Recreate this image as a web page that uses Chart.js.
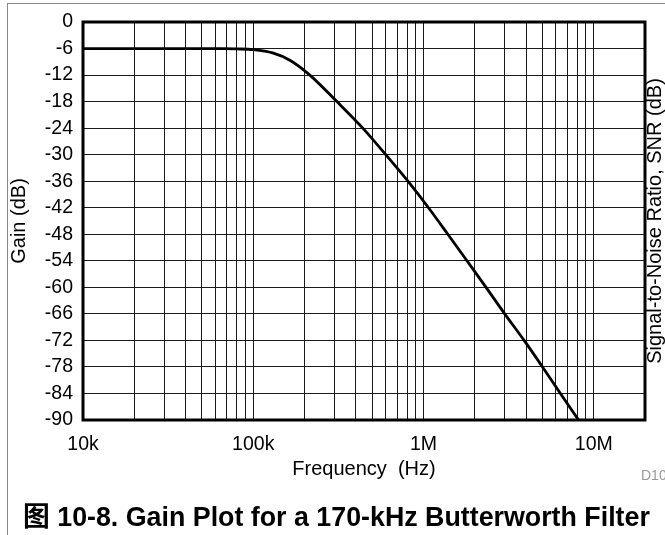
<!DOCTYPE html>
<html>
<head>
<meta charset="utf-8">
<script src="https://cdn.jsdelivr.net/npm/chart.js@4.4.1/dist/chart.umd.min.js"></script>
<style>
  html, body { margin: 0; padding: 0; background: #fff; }
  #wrap { position: relative; width: 665px; height: 535px; overflow: hidden; }
  #frame { position: absolute; left: 7px; top: 3px; width: 700px; height: 600px;
           border-top: 1px solid #8a8a8a; border-left: 1px solid #8a8a8a; }
  #gainChart { position: absolute; left: 0; top: 0; }
  #caption { position: absolute; left: 23px; top: 495px; line-height: 28px; white-space: nowrap;
             font: bold 26.8px "Liberation Sans", Arial, "Noto Sans CJK SC", sans-serif; color: #000; }
  #caption .cjk { font-family: "Noto Sans CJK SC", sans-serif; }
  #code { position: absolute; left: 641px; top: 467px; line-height: 16px; white-space: nowrap;
          font: 14px "Liberation Sans", Arial, sans-serif; color: #9a9a9a; }
</style>
</head>
<body>
<div id="wrap">
  <div id="frame"></div>
  <canvas id="gainChart" width="665" height="535"></canvas>
  <div id="code">D10</div>
  <div id="caption"><span class="cjk">图</span> 10-8. Gain Plot for a 170-kHz Butterworth Filter</div>
</div>
<script>
// Gain curve of the filter (frequency in Hz, gain in dB)
const freqs = [10000, 40000, 65000, 80000, 100000, 130000, 165000, 215000, 310000, 440000,
               600000, 810000, 1070000, 1390000, 1800000, 2330000, 3000000, 3900000,
               5000000, 6370000, 8150000];
const gains = [-6, -6, -6.02, -6.08, -6.25, -7.0, -8.7, -12, -18, -24,
               -30, -36, -42, -48, -54, -60, -66, -72,
               -78, -84, -90];

// Axis ranges and labels
const freqMin = 10000;
const freqMax = 20000000;
const labelFreqs = [10000, 100000, 1000000, 10000000];
const freqLabels = ['10k', '100k', '1M', '10M'];
const gainMin = -90;
const gainMax = 0;
const gainStep = 6;

// vertical grid at 1..9 x each decade
const gridFreqs = [];
for (let d = 10000; d < 10000000; d *= 10) {
    for (let m = 1; m <= 9; m++) gridFreqs.push(d * m);
}
gridFreqs.push(10000000);

const FONT = '"Liberation Sans", Arial, sans-serif';

// frame around the plot area and the extra axis texts
const decorations = {
    id: 'decorations',
    afterDatasetsDraw(chart) {
        const { ctx, chartArea: a } = chart;
        ctx.save();
        ctx.strokeStyle = '#000';
        ctx.lineWidth = 3;
        ctx.strokeRect(a.left, a.top, a.right - a.left, a.bottom - a.top);
        ctx.restore();
    },
    afterDraw(chart) {
        const { ctx, chartArea: a } = chart;
        const midY = (a.top + a.bottom) / 2;
        ctx.save();
        ctx.fillStyle = '#000';
        ctx.font = '20px ' + FONT;
        ctx.textAlign = 'center';
        ctx.textBaseline = 'middle';
        ctx.fillText('Frequency  (Hz)', (a.left + a.right) / 2, 469);

        ctx.save();
        ctx.translate(19, midY);
        ctx.rotate(-Math.PI / 2);
        ctx.fillText('Gain (dB)', 0, 0);
        ctx.restore();

        ctx.save();
        ctx.translate(655, midY);
        ctx.rotate(-Math.PI / 2);
        ctx.fillText('Signal-to-Noise Ratio, SNR (dB)', 0, 0);
        ctx.restore();
        ctx.restore();
    }
};

const ctx = document.getElementById('gainChart').getContext('2d');
const gainChart = new Chart(ctx, {
    type: 'line',
    data: {
        datasets: [{
            label: 'Gain',
            data: freqs.map((f, i) => ({ x: f, y: gains[i] })),
            borderColor: '#000',
            borderWidth: 2.8,
            pointRadius: 0,
            fill: false,
            cubicInterpolationMode: 'monotone'
        }]
    },
    options: {
        responsive: false,
        animation: false,
        layout: { padding: { left: 0, top: 22, right: 20, bottom: 0 } },
        plugins: { legend: { display: false }, tooltip: { enabled: false } },
        scales: {
            x: {
                type: 'logarithmic',
                min: freqMin,
                max: freqMax,
                afterBuildTicks: (scale) => {
                    scale.ticks = gridFreqs.map(v => ({ value: v }));
                },
                afterFit: (scale) => { scale.height = 115; },
                grid: { color: '#1a1a1a', lineWidth: 1, drawTicks: false },
                border: { display: false },
                ticks: {
                    autoSkip: false,
                    maxRotation: 0,
                    padding: 13,
                    color: '#000',
                    font: { family: FONT, size: 19.5 },
                    callback: (v) => {
                        const i = labelFreqs.indexOf(v);
                        return i >= 0 ? freqLabels[i] : '';
                    }
                }
            },
            y: {
                min: gainMin,
                max: gainMax,
                afterFit: (scale) => { scale.width = 83; },
                grid: { color: '#1a1a1a', lineWidth: 1, drawTicks: false },
                border: { display: false },
                ticks: {
                    stepSize: gainStep,
                    padding: 10,
                    color: '#000',
                    font: { family: FONT, size: 19.5 }
                }
            }
        }
    },
    plugins: [decorations]
});
</script>
</body>
</html>
